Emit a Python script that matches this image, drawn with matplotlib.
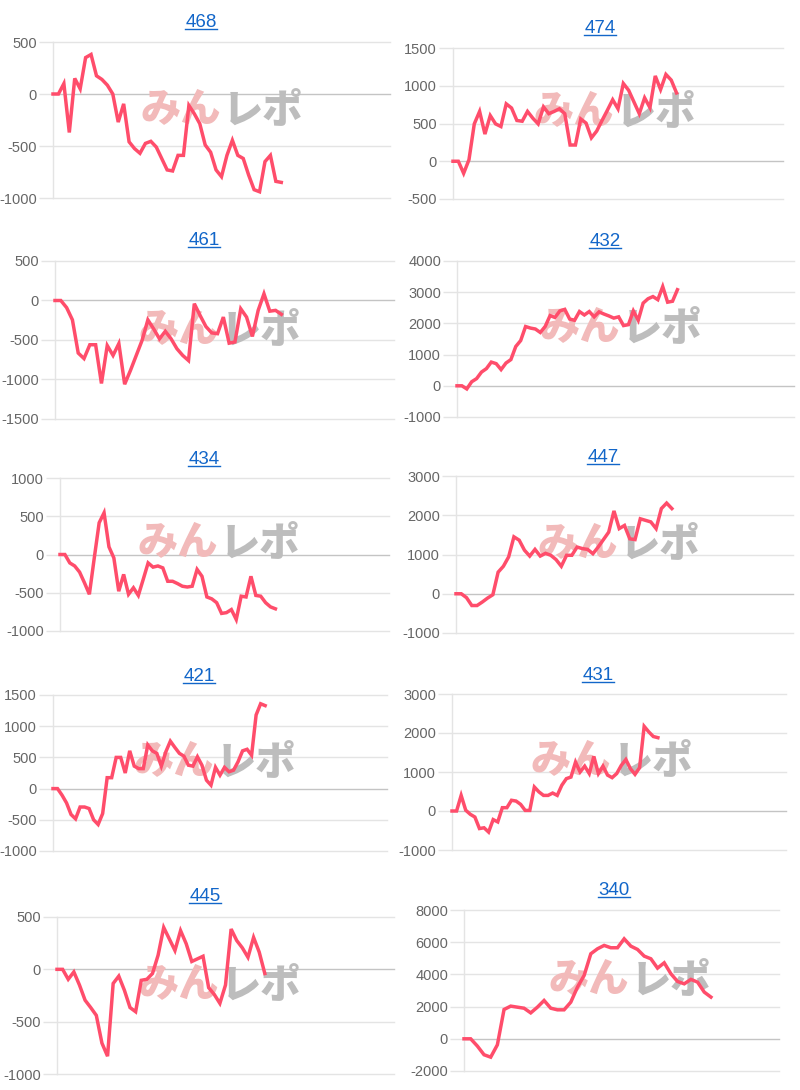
import numpy as np
import matplotlib
matplotlib.use("Agg")
import matplotlib.pyplot as plt
from matplotlib.lines import Line2D

plt.rcParams["font.family"] = ["Liberation Sans", "DejaVu Sans"]
plt.rcParams["axes.unicode_minus"] = False

W, H = 800, 1090

# ── data ─────────────────────────────────────────────────────────────────────
titles = ["468", "474", "461", "432", "434", "447", "421", "431", "445", "340"]

s468 = [0, 0, 100, -370, 150, 50, 350, 380, 175, 140, 85, 0, -270, -95, -460, -525, -570,
        -475, -455, -510, -620, -730, -740, -590, -590, -110, -190, -285, -490, -560, -730,
        -795, -590, -445, -590, -620, -780, -920, -940, -650, -590, -840, -850]
s474 = [0, 0, -160, 20, 495, 660, 360, 605, 495, 460, 760, 705, 540, 530, 660, 570, 495,
        720, 630, 660, 695, 630, 215, 215, 560, 505, 310, 400, 540, 675, 815, 695, 1030,
        940, 785, 630, 840, 710, 1130, 950, 1150, 1075, 905]
s461 = [0, 0, -90, -245, -665, -735, -560, -560, -1050, -570, -695, -545, -1060, -885,
        -695, -505, -245, -360, -485, -390, -485, -610, -695, -760, -40, -190, -330, -410,
        -420, -210, -540, -525, -105, -210, -455, -125, 85, -135, -125, -175]
s432 = [0, 0, -100, 130, 230, 440, 550, 760, 710, 520, 730, 840, 1260, 1450, 1900, 1850,
        1820, 1710, 1900, 2250, 2190, 2400, 2450, 2140, 2100, 2380, 2270, 2380, 2210, 2370,
        2300, 2240, 2170, 2210, 1930, 1960, 2400, 2100, 2650, 2790, 2860, 2760, 3180, 2680,
        2710, 3080]
s434 = [0, 0, -110, -150, -230, -370, -520, -45, 415, 545, 100, -45, -480, -260, -520,
        -435, -535, -325, -110, -165, -150, -175, -350, -350, -380, -415, -425, -415, -195,
        -285, -555, -580, -630, -770, -760, -720, -850, -545, -555, -285, -535, -545, -630,
        -685, -710]
s447 = [0, 0, -100, -300, -300, -210, -110, -25, 550, 700, 940, 1450, 1365, 1110, 960,
        1130, 960, 1030, 980, 870, 700, 980, 980, 1190, 1150, 1130, 1020, 1190, 1380, 1570,
        2110, 1660, 1740, 1400, 1380, 1910, 1870, 1830, 1660, 2170, 2310, 2170]
s421 = [0, 0, -105, -230, -415, -485, -295, -295, -320, -500, -575, -400, 175, 175, 500,
        500, 250, 605, 360, 320, 320, 700, 605, 565, 360, 590, 760, 660, 565, 520, 375, 360,
        510, 375, 135, 55, 340, 215, 340, 270, 295, 430, 605, 630, 535, 1180, 1360, 1330]
s431 = [0, 0, 400, 20, -85, -155, -450, -430, -540, -220, -280, 85, 85, 275, 255, 170, 15,
        15, 615, 490, 400, 400, 460, 400, 660, 830, 870, 1255, 1000, 1150, 960, 1400, 960,
        1150, 920, 855, 960, 1170, 1320, 1085, 940, 1110, 2170, 2030, 1910, 1880]
s445 = [0, 0, -95, -25, -150, -295, -365, -440, -705, -830, -135, -65, -200, -365, -405,
        -105, -95, -40, 135, 400, 290, 180, 370, 245, 75, 100, 125, -175, -240, -325, -150,
        385, 275, 205, 115, 305, 165, -40]
s340 = [0, 0, -450, -990, -1140, -375, 1820, 2030, 1965, 1900, 1610, 1965, 2380, 1900,
        1800, 1800, 2275, 3210, 3935, 5280, 5590, 5800, 5655, 5655, 6210, 5755, 5550, 5135,
        4970, 4390, 4720, 4040, 3560, 3415, 3690, 3520, 2900, 2590]

series = [s468, s474, s461, s432, s434, s447, s421, s431, s445, s340]

# y axis range / step and number of x slots on each chart
y_min = [-1000, -500, -1500, -1000, -1000, -1000, -1000, -1000, -1000, -2000]
y_max = [500, 1500, 500, 4000, 1000, 3000, 1500, 3000, 500, 8000]
y_step = [500, 500, 500, 1000, 500, 1000, 500, 1000, 500, 2000]
x_span = [62, 62, 58.4, 68.8, 67.2, 64.0, 74.0, 73.0, 60.0, 47.2]

# ── layout (pixels, from top-left) ──────────────────────────────────────────
boxes = [(53, 42, 390, 198), (453, 48, 783, 199),
         (55, 261, 394, 419), (457, 261, 794, 417),
         (60, 478, 389, 631), (456, 476, 793, 633),
         (53, 695, 387, 851), (452, 694, 786, 850),
         (57, 917, 394, 1074), (464, 910, 779, 1071)]
title_pos = [(201, 27), (600, 33), (204, 245), (605, 246), (204, 464),
             (603, 462), (199, 681), (598, 680), (205, 901), (614, 895)]
wm_pos = [(221, 110), (614, 112), (219, 330), (620, 328), (218, 543),
          (618, 544), (214, 762), (611, 761), (219, 985), (629, 980)]

RED = "#ff4d6b"
BLUE = "#1266c9"
GRID = "#e4e4e4"
ZERO = "#c4c4c4"
PINK = "#f2baba"
WM_GRAY = "#bdbdbd"

fig = plt.figure(figsize=(W / 100, H / 100), dpi=100)
fig.patch.set_facecolor("white")

title_texts = []
for i, s in enumerate(series):
    l, t, r, b = boxes[i]
    ax = fig.add_axes([l / W, 1 - b / H, (r - l) / W, (b - t) / H])
    ax.set_facecolor("none")

    ax.plot(np.arange(len(s)), s, color=RED, lw=2.5, solid_joinstyle="miter",
            zorder=3, clip_on=False)
    ax.set_xlim(0, x_span[i])
    ax.set_ylim(y_min[i], y_max[i])

    ticks = np.arange(y_min[i], y_max[i] + 1, y_step[i])
    ax.set_yticks(ticks)
    ax.set_yticklabels([str(v) for v in ticks])
    ax.set_xticks([])
    for v in ticks:
        ax.axhline(v, color=ZERO if v == 0 else GRID, lw=1, zorder=0, clip_on=False)

    for side in ["top", "right", "bottom"]:
        ax.spines[side].set_visible(False)
    ax.spines["left"].set_color(GRID)
    ax.spines["left"].set_linewidth(1)
    ax.tick_params(axis="y", length=10, width=1, color=GRID, pad=1.5,
                   labelsize=10.5, labelcolor="#666666")

    # watermark logo behind the line
    wx, wy = wm_pos[i]
    ax.text(wx / W, 1 - wy / H, "みん", transform=fig.transFigure, ha="right", va="center",
            fontsize=29, color=PINK, family=["Noto Sans CJK JP"], weight="black", zorder=1)
    ax.text((wx + 2) / W, 1 - wy / H, "レポ", transform=fig.transFigure, ha="left",
            va="center", fontsize=29, color=WM_GRAY, family=["Noto Sans CJK JP"],
            weight="black", zorder=1)

    tx, ty = title_pos[i]
    title_texts.append(fig.text(tx / W, 1 - ty / H, titles[i], ha="center", va="baseline",
                                fontsize=13.5, color=BLUE))

# underline the titles (they are links on the page)
fig.canvas.draw()
for i, txt in enumerate(title_texts):
    bb = txt.get_window_extent()
    uy = 1 - (title_pos[i][1] + 2) / H
    fig.add_artist(Line2D([bb.x0 / W, bb.x1 / W], [uy, uy], transform=fig.transFigure,
                          color=BLUE, lw=1))

fig.savefig("out.png", dpi=100)
